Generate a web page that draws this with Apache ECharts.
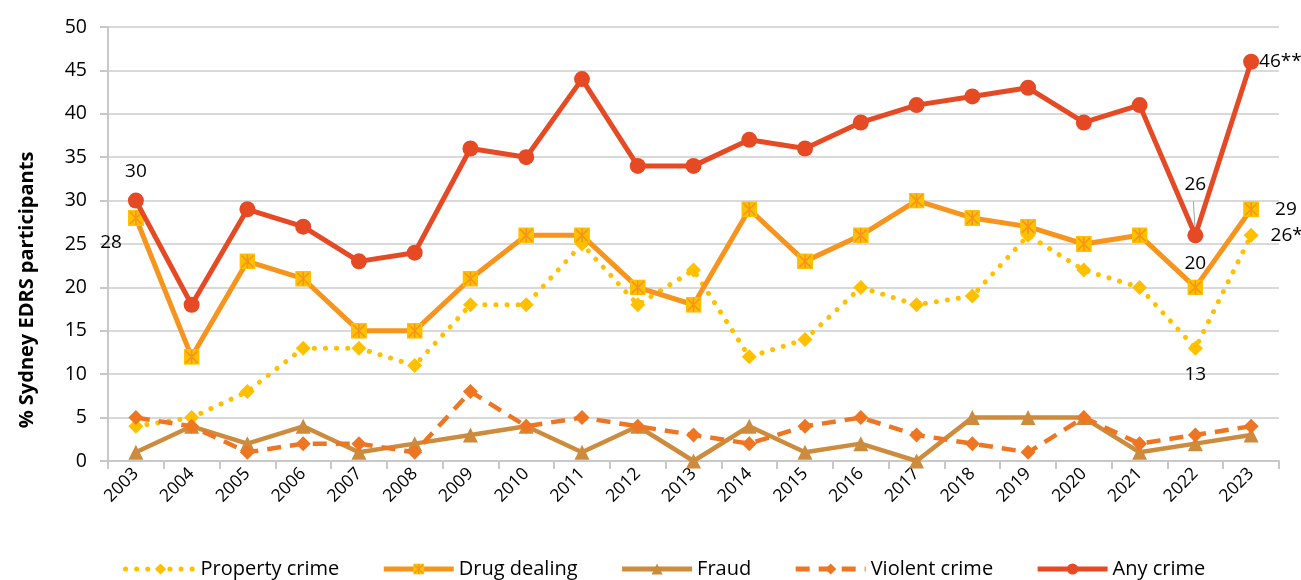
<!DOCTYPE html>
<html><head><meta charset="utf-8">
<script src="https://cdn.jsdelivr.net/npm/echarts@6/dist/echarts.min.js"></script>
<style>html,body{margin:0;padding:0;background:#fff}#c{width:1301px;height:580px}</style>
</head><body><div id="c"></div>
<script>
const years = ['2003','2004','2005','2006','2007','2008','2009','2010','2011','2012','2013','2014','2015','2016','2017','2018','2019','2020','2021','2022','2023'];
const propertyCrime = [4,5,8,13,13,11,18,18,25,18,22,12,14,20,18,19,26,22,20,13,26];
const drugDealing = [28,12,23,21,15,15,21,26,26,20,18,29,23,26,30,28,27,25,26,20,29];
const fraud = [1,4,2,4,1,2,3,4,1,4,0,4,1,2,0,5,5,5,1,2,3];
const violentCrime = [5,4,1,2,2,1,8,4,5,4,3,2,4,5,3,2,1,5,2,3,4];
const anyCrime = [30,18,29,27,23,24,36,35,44,34,34,37,36,39,41,42,43,39,41,26,46];
const yTicks = [0,50,5];
const yAxisTitle = '% Sydney EDRS participants';

const FONT = '"Open Sans", "Noto Sans", sans-serif';
const sqSvg = 'image://data:image/svg+xml;utf8,' + encodeURIComponent('<svg xmlns="http://www.w3.org/2000/svg" width="16" height="16"><rect x="0" y="0" width="16" height="16" fill="#FFC000"/><path d="M2 2L14 14M14 2L2 14M8 1V15" stroke="#F7941D" stroke-width="1.6"/></svg>');

function lab(arr, cfg) {
  return arr.map((v, i) => cfg[i] ? {value: v, label: Object.assign({show: true, fontSize: 19, color: '#000', fontFamily: FONT}, cfg[i])} : v);
}

const titleGraphic = {type: 'text', x: 27, y: 290, rotation: Math.PI / 2, style: {text: yAxisTitle, fontSize: 20, fontWeight: 'bold', fill: '#000', fontFamily: FONT, textAlign: 'center', textVerticalAlign: 'middle'}};

const chart = echarts.init(document.getElementById('c'));
chart.setOption({
  animation: false,
  textStyle: {fontFamily: FONT},
  grid: {left: 108, right: 22, top: 27, bottom: 119},
  legend: {
    bottom: -4, left: 118, itemWidth: 70, itemHeight: 14, itemGap: 42,
    lineStyle: {width: 5},
    textStyle: {fontSize: 20, color: '#000', fontFamily: FONT},
    data: ['Property crime','Drug dealing','Fraud','Violent crime','Any crime']
  },
  xAxis: {
    type: 'category', data: years, boundaryGap: true,
    axisLine: {lineStyle: {color: '#c8c8c8', width: 2}},
    axisTick: {show: true, length: 8, lineStyle: {color: '#c8c8c8', width: 2}},
    axisLabel: {rotate: 45, fontSize: 17.5, color: '#000', margin: 10}
  },
  yAxis: {
    type: 'value', min: yTicks[0], max: yTicks[1], interval: yTicks[2],
    axisLine: {show: true, lineStyle: {color: '#c8c8c8', width: 2}},
    axisTick: {show: true, length: 8, lineStyle: {color: '#c8c8c8', width: 2}},
    axisLabel: {fontSize: 19.5, color: '#000', margin: 21},
    splitLine: {lineStyle: {color: '#d9d9d9', width: 2}}
  },
  series: [
    {name: 'Property crime', type: 'line', data: lab(propertyCrime, {19: {position: 'bottom', distance: 9}, 20: {position: 'right', distance: 12, formatter: '{c}*'}}),
      symbol: 'diamond', symbolSize: 15, itemStyle: {color: '#FFC000'},
      lineStyle: {color: '#FFC000', width: 5, type: [0.1, 11], cap: 'round'}, z: 3},
    {name: 'Drug dealing', type: 'line', data: lab(drugDealing, {0: {position: 'left', distance: 6, offset: [0, 25]}, 19: {position: 'top', distance: 6}, 20: {position: 'right', distance: 16}}),
      symbol: sqSvg, symbolSize: 16, itemStyle: {color: '#F7941D'},
      lineStyle: {color: '#F7941D', width: 5}, z: 4},
    {name: 'Fraud', type: 'line', data: fraud,
      symbol: 'triangle', symbolSize: 15, itemStyle: {color: '#CD8B3E'},
      lineStyle: {color: '#CD8B3E', width: 4.5}, z: 2},
    {name: 'Violent crime', type: 'line', data: violentCrime,
      symbol: 'diamond', symbolSize: 15, itemStyle: {color: '#EE7623'},
      lineStyle: {color: '#EE7623', width: 4.5, type: [14, 9]}, z: 3},
    {name: 'Any crime', type: 'line', data: lab(anyCrime, {0: {position: 'top', distance: 12}, 19: {position: 'top', distance: 33}, 20: {position: 'right', distance: 0, formatter: '{c}**'}}),
      symbol: 'circle', symbolSize: 16, itemStyle: {color: '#E64A25'},
      lineStyle: {color: '#E64A25', width: 5}, z: 5}
  ],
  graphic: [titleGraphic]
});
// leader line for 2022 Any crime label
setTimeout(() => {
  const p1 = chart.convertToPixel({xAxisIndex: 0, yAxisIndex: 0}, [19, 26]);
  chart.setOption({graphic: [titleGraphic,
    {type: 'line', shape: {x1: p1[0] - 2, y1: p1[1] - 34, x2: p1[0], y2: p1[1] - 2}, style: {stroke: '#a0a0a0', lineWidth: 1}, z: 1}]});
}, 0);
</script></body></html>
